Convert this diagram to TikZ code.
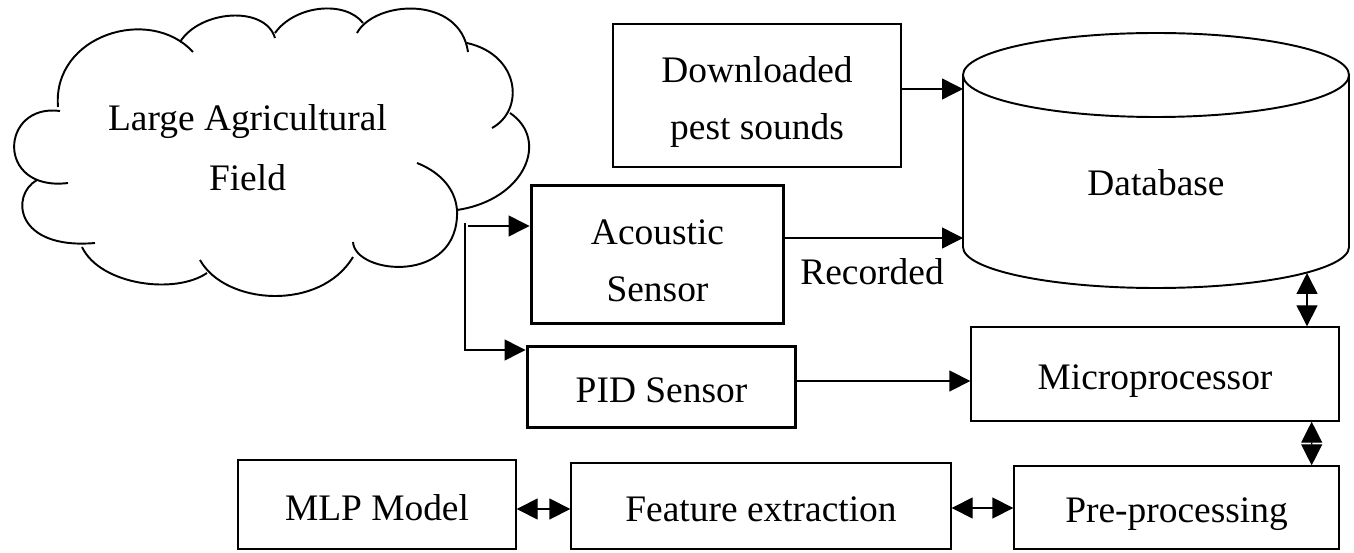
\documentclass[tikz,border=0pt]{standalone}
\usepackage{fontspec}
\setmainfont{Liberation Serif}
\usetikzlibrary{arrows.meta,calc}
\newcommand\fs{\fontsize{21.3pt}{33pt}\selectfont}
\newcommand\fsc{\fontsize{21.3pt}{34.7pt}\selectfont}
\tikzset{
  tip/.tip={Triangle[length=0.42cm,width=0.42cm]},
  box/.style={draw, line width=0.8pt, inner sep=0pt, font=\fs, align=center, text height=0.62cm, text depth=0cm},
  tbox/.style={box, line width=1.7pt},
  arr/.style={line width=0.75pt, -tip},
  darr/.style={line width=0.75pt, tip-tip},
  outl/.style={line width=1.1pt},
  lbl/.style={font=\fs, inner sep=0pt, anchor=base},
}
\begin{document}
\begin{tikzpicture}[x=0.02cm, y=-0.02cm]
\useasboundingbox (0,0) rectangle (1354,553);

% cloud
\draw[outl] (60,111) .. controls (0,103) and (-5,192) .. (68,183);
\draw[outl] (37,180) .. controls (10,195) and (15,250) .. (95,243);
\draw[outl] (82,247) .. controls (100,285) and (175,295) .. (207,273);
\draw[outl] (200,260) .. controls (225,305) and (320,312) .. (353,257);
\draw[outl] (353,242) .. controls (355,275) and (460,285) .. (457,210) .. controls (455,185) and (435,170) .. (417,163);
\draw[outl] (457,210) .. controls (525,200) and (550,140) .. (510,113);
\draw[outl] (467,43) .. controls (520,55) and (525,110) .. (492,128);
\draw[outl] (357,33) .. controls (375,0) and (460,-5) .. (468,52);
\draw[outl] (275,33) .. controls (295,5) and (345,0) .. (363,23);
\draw[outl] (180,42) .. controls (200,10) and (265,5) .. (275,38);
\draw[outl] (58,107) .. controls (52,35) and (150,5) .. (193,52);
\node[lbl, align=center, font=\fsc] (field) at (247.5,191) {Large Agricultural\\Field};

% database cylinder
\draw[outl] (1156,75) ellipse [x radius=193, y radius=42];
\draw[outl] (963,75) -- (963,247) .. controls (963,269.6) and (1049.4,288) .. (1156,288)
  .. controls (1262.6,288) and (1349,269.6) .. (1349,247) -- (1349,75);
\node[lbl] (db) at (1156,196) {Database};
\coordinate (dbIn1) at (963,89);
\coordinate (dbIn2) at (963,238);
\coordinate (dbBot) at (1307,273);

% boxes
\node[box, minimum width=5.76cm, minimum height=2.86cm, text height=1.78cm] (dl) at (757,95.5) {Downloaded\\pest sounds};
\node[tbox, minimum width=5.06cm, minimum height=2.78cm, text height=1.9cm] (ac) at (657.5,254.5) {Acoustic\\Sensor};
\node[tbox, minimum width=5.38cm, minimum height=1.64cm] (pid) at (661.5,387) {PID Sensor};
\node[box, minimum width=7.36cm, minimum height=1.88cm] (micro) at (1155,374) {Microprocessor};
\node[box, minimum width=6.5cm, minimum height=1.66cm] (pre) at (1176.5,507.5) {Pre-processing};
\node[box, minimum width=7.6cm, minimum height=1.72cm] (feat) at (761,506) {Feature extraction};
\node[box, minimum width=5.56cm, minimum height=1.78cm] (mlp) at (377,504.5) {MLP Model};
\node[lbl] (rec) at (872,285) {Recorded};

% feed from field
\coordinate (feedA) at (468,226);
\coordinate (feedT) at (465,223);
\coordinate (feedB) at (465,350);
\draw[arr] (feedA) -- (feedA -| ac.west);
\draw[arr] (feedT) -- (feedB) -- (feedB -| pid.west);

% connectors
\draw[arr] (dbIn1 -| dl.east) -- (dbIn1);
\draw[arr] (dbIn2 -| ac.east) -- (dbIn2);
\draw[arr] (pid.east |- 0,381) -- (micro.west |- 0,381);
\draw[darr] (dbBot) -- (dbBot |- micro.north);
\draw[darr] ($(micro.south east)+(-28,0)$) -- ($(pre.north east)+(-28,0)$);
\draw[darr] (feat.east |- 0,508) -- (pre.west |- 0,508);
\draw[darr] (mlp.east |- 0,509) -- (feat.west |- 0,509);
\end{tikzpicture}
\end{document}
